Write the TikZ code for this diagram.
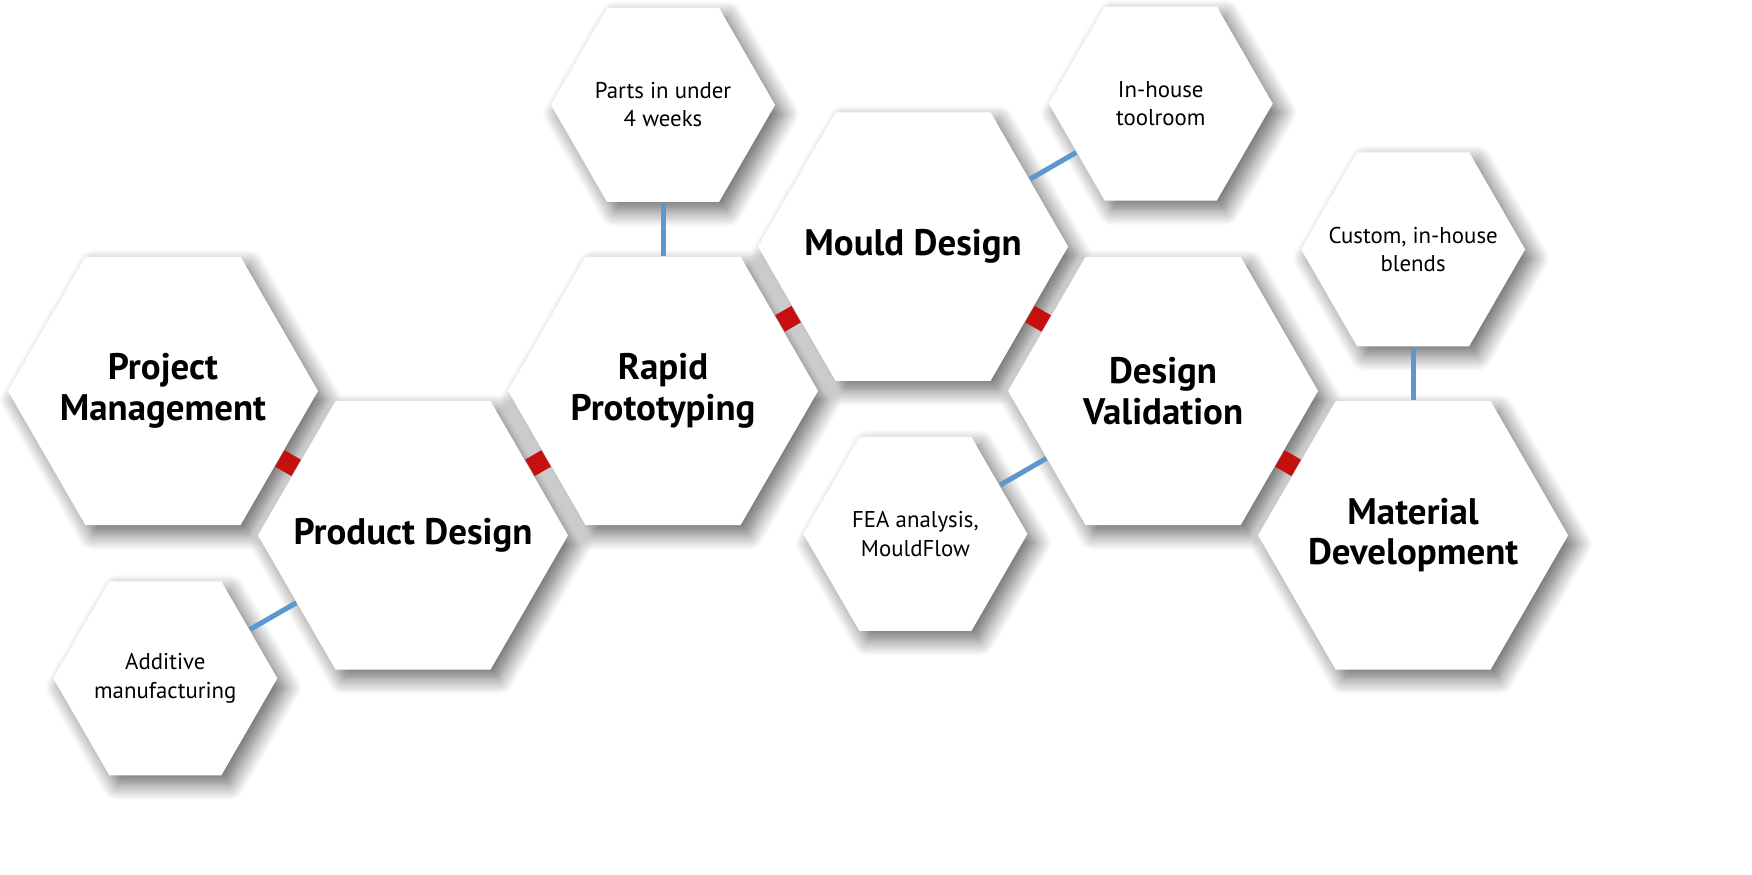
\documentclass[tikz,border=0pt]{standalone}
\usepackage{fontspec}
\setmainfont{PT Sans}
\usetikzlibrary{shapes.geometric,shadows.blur,calc}
\definecolor{linkred}{RGB}{198,16,16}
\definecolor{linkblue}{RGB}{92,152,204}
\begin{document}
\begin{tikzpicture}[
        hex/.style={regular polygon, regular polygon sides=6, fill=white, inner sep=0pt,
            blur shadow={shadow xshift=0.08cm, shadow yshift=-0.09cm, shadow blur radius=0.16cm,
                shadow blur steps=14, shadow opacity=60}},
        bigtext/.style={align=center, inner sep=0pt, font=\fontsize{10.5}{11.5}\selectfont\bfseries},
        smalltext/.style={align=center, inner sep=0pt, font=\fontsize{6.5}{8}\selectfont},
        bighex/.style={hex, minimum size=3.1cm, label={[bigtext]center:{#1}}},
        smallhex/.style={hex, minimum size=2.24cm, label={[smalltext]center:{#1}}},
        redlink/.style={linkred, line width=0.19cm},
        bluelink/.style={linkblue, line width=0.05cm}]
    \useasboundingbox (0,0) rectangle (17.52,8.75);
    % main chain
    \node[bighex={Project\\Management}] (project) at (1.63,4.84) {};
    \node[bighex={Product Design}] (product) at ($(project)+(-30:2.887)$) {};
    \node[smallhex={Additive\\manufacturing}] (additive) at ($(product)+(210:2.86)$) {};
    \node[bighex={Rapid\\Prototyping}] (rapid) at ($(product)+(30:2.887)$) {};
    \node[smallhex={Parts in under\\4 weeks}] (parts) at ($(rapid)+(90:2.86)$) {};
    \node[bighex={Mould Design}] (mould) at ($(rapid)+(30:2.887)$) {};
    \node[smallhex={In-house\\toolroom}] (toolroom) at ($(mould)+(30:2.86)$) {};
    \node[bighex={Design\\Validation}] (validation) at ($(mould)+(-30:2.887)$) {};
    \node[smallhex={FEA analysis,\\MouldFlow}] (fea) at ($(validation)+(210:2.86)$) {};
    \node[bighex={Material\\Development}] (material) at ($(validation)+(-30:2.887)$) {};
    \node[smallhex={Custom, in-house\\blends}] (blends) at ($(material)+(90:2.86)$) {};
    % links
    \foreach \a/\b in {project/product, product/rapid, rapid/mould, mould/validation, validation/material}
        \draw[redlink] (\a) -- (\b);
    \foreach \a/\b in {product/additive, rapid/parts, mould/toolroom, validation/fea, material/blends}
        \draw[bluelink] (\a) -- (\b);
\end{tikzpicture}
\end{document}
